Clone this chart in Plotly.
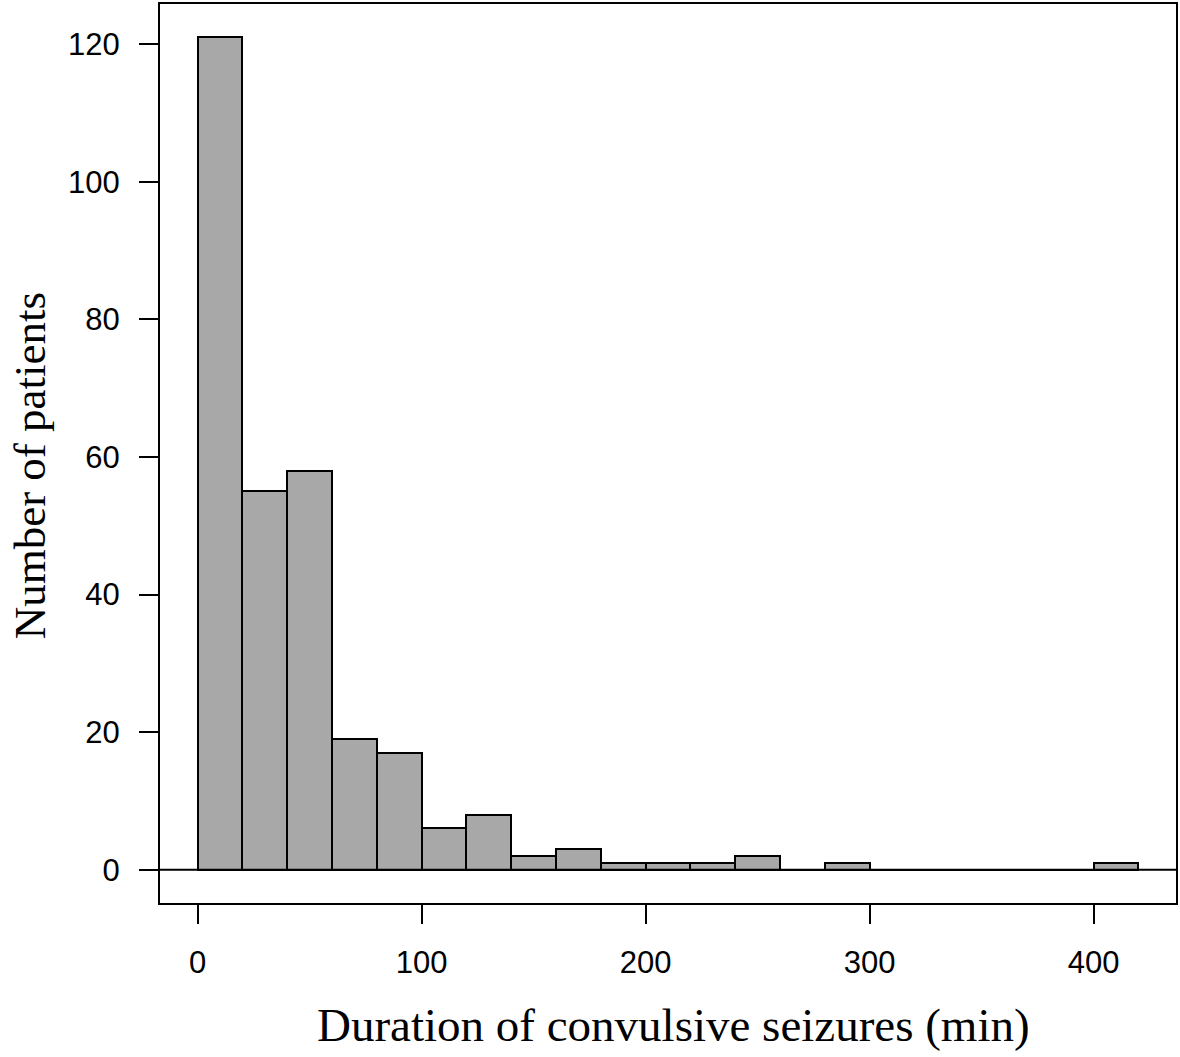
import plotly.graph_objects as go

# Histogram data: bin edges (minutes) and counts (number of patients)
bin_starts = [0, 20, 40, 60, 80, 100, 120, 140, 160, 180, 200, 220, 240, 260,
              280, 300, 320, 340, 360, 380, 400]
bin_width = 20
counts = [121, 55, 58, 19, 17, 6, 8, 2, 3, 1, 1, 1, 2, 0, 1, 0, 0, 0, 0, 0, 1]

x_ticks = [0, 100, 200, 300, 400]
y_ticks = [0, 20, 40, 60, 80, 100, 120]

x_title = "Duration of convulsive seizures (min)"
y_title = "Number of patients"

centers = [s + bin_width / 2 for s in bin_starts]

fig = go.Figure()
fig.add_trace(go.Bar(
    x=centers,
    y=counts,
    width=[bin_width] * len(centers),
    marker=dict(color="#a8a8a8", line=dict(color="black", width=2)),
    showlegend=False,
    hoverinfo="x+y",
))

# horizontal baseline at zero across the full plot width
fig.add_shape(type="line", xref="paper", yref="y", x0=0, x1=1, y0=0, y1=0,
              line=dict(color="black", width=2), layer="above")

tick_font = dict(family="Liberation Sans, Arial, sans-serif", size=31, color="black")
xtitle_font = dict(family="Liberation Serif, Times New Roman, serif", size=47, color="black")
ytitle_font = dict(family="Liberation Serif, Times New Roman, serif", size=45, color="black")

fig.update_layout(
    width=1180, height=1057,
    margin=dict(l=160, r=2, t=2, b=154),
    plot_bgcolor="white", paper_bgcolor="white",
    bargap=0,
    xaxis=dict(
        range=[-16.8, 436.8], tickvals=x_ticks, ticktext=[str(v) for v in x_ticks],
        showgrid=False, zeroline=False, showline=True, mirror=True,
        linecolor="black", linewidth=2, ticks="outside", ticklen=19, tickwidth=2,
        tickcolor="black", tickfont=tick_font, ticklabelstandoff=12,
    ),
    yaxis=dict(
        range=[-4.84, 125.84], tickvals=y_ticks, ticktext=[str(v) for v in y_ticks],
        showgrid=False, zeroline=False, showline=True, mirror=True,
        linecolor="black", linewidth=2, ticks="outside", ticklen=19, tickwidth=2,
        tickcolor="black", tickfont=tick_font, ticklabelstandoff=13,
    ),
    annotations=[
        dict(text=x_title, xref="paper", yref="paper", x=0.505, y=-0.1354,
             xanchor="center", yanchor="middle", showarrow=False, font=xtitle_font),
        dict(text=y_title, xref="paper", yref="paper", x=-0.1277, y=0.486,
             xanchor="center", yanchor="middle", textangle=-90, showarrow=False,
             font=ytitle_font),
    ],
)

fig.write_html(
    "out.html",
    config={"displayModeBar": False},
    post_script="document.body.style.margin='0';document.body.style.overflow='hidden';",
)
